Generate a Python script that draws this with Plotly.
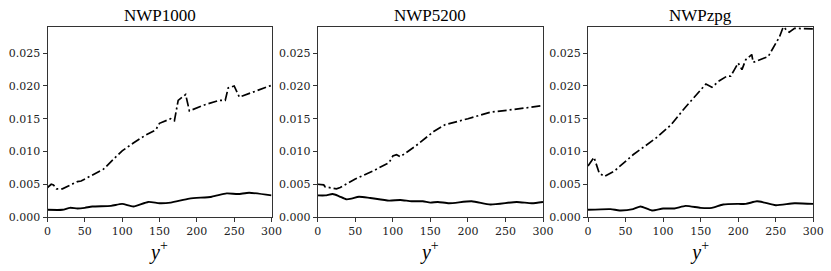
import plotly.graph_objects as go

titles = ["NWP1000", "NWP5200", "NWPzpg"]

# NWP1000
p1_dd_x = [0, 5, 8, 12, 20, 30, 40, 45, 50, 60, 75, 90, 100, 115, 130, 145, 150, 165, 170, 175, 185, 190, 210, 230, 238, 242, 250, 257, 280, 300]
p1_dd_y = [0.0045, 0.0050, 0.0049, 0.0043, 0.0043, 0.0048, 0.0054, 0.0055, 0.0058, 0.0065, 0.0073, 0.0090, 0.0101, 0.0113, 0.0124, 0.0133, 0.0143, 0.0150, 0.0147, 0.0178, 0.0187, 0.0162, 0.0171, 0.0178, 0.0178, 0.0197, 0.0200, 0.0183, 0.0192, 0.0201]
p1_s_x = [0, 20, 30, 40, 50, 60, 85, 100, 115, 135, 150, 165, 190, 220, 240, 255, 270, 300]
p1_s_y = [0.0011, 0.0011, 0.0014, 0.0013, 0.0014, 0.0016, 0.0017, 0.0020, 0.0016, 0.0023, 0.0021, 0.0022, 0.0028, 0.0031, 0.0036, 0.0035, 0.0037, 0.0033]

# NWP5200
p2_dd_x = [0, 8, 10, 25, 30, 50, 75, 95, 100, 105, 110, 130, 155, 170, 200, 230, 260, 300]
p2_dd_y = [0.0050, 0.0049, 0.0046, 0.0043, 0.0045, 0.0058, 0.0071, 0.0083, 0.0093, 0.0095, 0.0092, 0.0108, 0.0131, 0.0141, 0.0150, 0.0160, 0.0164, 0.0170]
p2_s_x = [0, 10, 20, 28, 38, 45, 55, 70, 95, 110, 125, 140, 150, 160, 175, 205, 230, 265, 285, 300]
p2_s_y = [0.0033, 0.0033, 0.0035, 0.0032, 0.0027, 0.0028, 0.0031, 0.0029, 0.0025, 0.0026, 0.0024, 0.0024, 0.0022, 0.0023, 0.0021, 0.0024, 0.0019, 0.0023, 0.0021, 0.0023]

# NWPzpg
p3_dd_x = [0, 5, 8, 15, 22, 35, 60, 90, 110, 130, 150, 157, 165, 175, 185, 190, 195, 200, 205, 210, 218, 220, 240, 255, 260, 268, 275, 300]
p3_dd_y = [0.0078, 0.0085, 0.0091, 0.0067, 0.0062, 0.0070, 0.0095, 0.0120, 0.0140, 0.0168, 0.0195, 0.0203, 0.0198, 0.0208, 0.0215, 0.0215, 0.0225, 0.0235, 0.0225, 0.0240, 0.0248, 0.0236, 0.0245, 0.0275, 0.0290, 0.0282, 0.0288, 0.0287]
p3_s_x = [0, 30, 42, 60, 70, 85, 100, 115, 130, 150, 165, 180, 200, 210, 225, 235, 250, 275, 300]
p3_s_y = [0.0011, 0.0012, 0.0010, 0.0012, 0.0016, 0.0010, 0.0013, 0.0013, 0.0017, 0.0014, 0.0014, 0.0019, 0.0020, 0.0020, 0.0024, 0.0022, 0.0018, 0.0021, 0.0020]

x_ticks = [0, 50, 100, 150, 200, 250, 300]
y_ticks = [0.0, 0.005, 0.010, 0.015, 0.020, 0.025]

panels = [
    (p1_dd_x, p1_dd_y, p1_s_x, p1_s_y),
    (p2_dd_x, p2_dd_y, p2_s_x, p2_s_y),
    (p3_dd_x, p3_dd_y, p3_s_x, p3_s_y),
]

W, H = 831, 271
domains_x = [(47.5 / W, 271.5 / W),
             (317.7 / W, 543 / W),
             (588 / W, 813.3 / W)]
dom_y = (1 - 217 / H, 1 - 27 / H)

TICKFONT = "DejaVu Serif"
FONT = "Liberation Serif"
fig = go.Figure()
for i, (dx, dy, sx, sy) in enumerate(panels):
    ax = "" if i == 0 else str(i + 1)
    fig.add_trace(go.Scatter(x=sx, y=sy, mode="lines", xaxis="x" + ax, yaxis="y" + ax,
                             line=dict(color="black", width=1.9, shape="spline", smoothing=0.6),
                             showlegend=False, hoverinfo="skip"))
    fig.add_trace(go.Scatter(x=dx, y=dy, mode="lines", xaxis="x" + ax, yaxis="y" + ax,
                             line=dict(color="black", width=1.7, dash="9px,3px,2px,3px"),
                             showlegend=False, hoverinfo="skip"))
    common = dict(showline=True, linecolor="#333", linewidth=1, mirror=True,
                  ticks="outside", ticklen=4, tickwidth=1, tickcolor="#333",
                  showgrid=False, zeroline=False, automargin=False,
                  ticklabeloverflow="allow",
                  tickfont=dict(family=TICKFONT, size=11, color="#222"))
    fig.update_layout(**{
        "xaxis" + ax: dict(domain=domains_x[i], range=[0, 300], tickvals=x_ticks,
                           anchor="y" + ax,
                           title=dict(text="<i>y</i><sup>+</sup>", font=dict(family=FONT, size=20, color="black"), standoff=2),
                           **common),
        "yaxis" + ax: dict(domain=dom_y, range=[0, 0.029], tickvals=y_ticks, tickformat=".3f",
                           anchor="x" + ax, **common),
    })
    fig.add_annotation(text=titles[i], xref="paper", yref="paper",
                       x=(domains_x[i][0] + domains_x[i][1]) / 2, y=1 - 15 / H,
                       xanchor="center", yanchor="middle", showarrow=False,
                       font=dict(family=FONT, size=17, color="black"))

fig.update_layout(width=W, height=H, margin=dict(l=0, r=0, t=0, b=0),
                  paper_bgcolor="white", plot_bgcolor="white")
fig.write_html("out.html",
               config={"displayModeBar": False},
               post_script="document.body.style.margin='0';document.body.style.overflow='hidden';")
